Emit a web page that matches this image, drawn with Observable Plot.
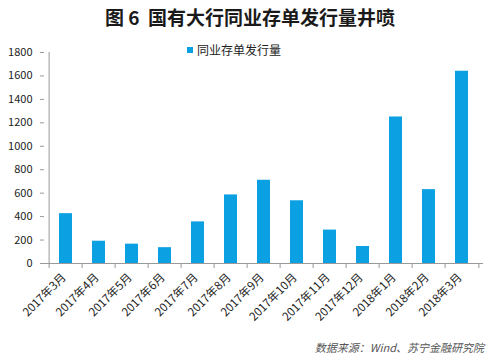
<!DOCTYPE html>
<html>
<head>
<meta charset="utf-8">
<script src="https://cdn.jsdelivr.net/npm/d3@7"></script>
<script src="https://cdn.jsdelivr.net/npm/@observablehq/plot@0.6"></script>
<style>
  html, body { margin: 0; padding: 0; background: #fff; }
  #wrap { position: relative; width: 500px; height: 356px; overflow: hidden; font-family: "Noto Sans CJK SC", "Noto Sans", sans-serif; }
  #title { position: absolute; left: 0; width: 500px; top: 3px; text-align: center; font-size: 19px; font-weight: bold; color: #1a1a1a; white-space: pre; }
  #legend { position: absolute; left: 187px; top: 41px; font-size: 12px; color: #222; display: flex; align-items: center; }
  #legend span.sw { display: inline-block; width: 6px; height: 6px; margin-right: 4px; }
  #caption { position: absolute; right: 16px; top: 339px; font-size: 11px; font-style: italic; color: #555; }
  #chart { position: absolute; left: 0; top: 0; }
</style>
</head>
<body>
<div id="wrap">
  <div id="chart"></div>
  <div id="title"></div>
  <div id="legend"></div>
  <div id="caption"></div>
</div>
<script>
const titleText = "图 6  国有大行同业存单发行量井喷";
const seriesName = "同业存单发行量";
const captionText = "数据来源：Wind、苏宁金融研究院";
const months = ["2017年3月","2017年4月","2017年5月","2017年6月","2017年7月","2017年8月","2017年9月","2017年10月","2017年11月","2017年12月","2018年1月","2018年2月","2018年3月"];
const values = [425, 190, 165, 135, 355, 585, 710, 535, 285, 145, 1250, 630, 1640];
const yTicks = [0, 200, 400, 600, 800, 1000, 1200, 1400, 1600, 1800];
const barColor = "#0aa0e2";

const data = months.map((m, i) => ({month: m, value: values[i]}));

const W = 500, H = 356, mL = 44, mR = 17, mT = 52, mB = 93;
const step = (W - mL - mR) / months.length;

const chart = Plot.plot({
  width: W, height: H,
  marginLeft: mL, marginRight: mR, marginTop: mT, marginBottom: mB,
  style: {fontFamily: '"Noto Sans CJK SC", "Noto Sans", sans-serif', fontSize: "11px", color: "#333", background: "#fff"},
  x: {domain: months, paddingInner: 0.6, paddingOuter: 0.3, axis: null, label: null},
  y: {domain: [0, 1800], axis: null, label: null},
  marks: [
    Plot.barY(data, {x: "month", y: "value", fill: barColor}),
    Plot.axisY({ticks: yTicks, tickSize: 4, tickPadding: 8, stroke: "#999", fill: "#222", fontSize: 11, tickFormat: d => String(d), label: null}),
    Plot.ruleX([months[0]], {dx: -step / 2, stroke: "#999"}),
    Plot.ruleY([0], {stroke: "#999"}),
    Plot.axisX({ticks: months, tickSize: 5, dx: -step / 2, text: null, stroke: "#999", label: null}),
    Plot.axisX({ticks: months.slice(-1), tickSize: 5, dx: step / 2, text: null, stroke: "#999", label: null}),
    Plot.axisX({ticks: months, tickSize: 0, tickPadding: 12, tickRotate: -45, fill: "#222", fontSize: 11.5, dx: -2, label: null})
  ]
});
document.getElementById("chart").appendChild(chart);
document.getElementById("title").textContent = titleText;
document.getElementById("legend").innerHTML = `<span class="sw" style="background:${barColor}"></span><span>${seriesName}</span>`;
document.getElementById("caption").textContent = captionText;
</script>
</body>
</html>
